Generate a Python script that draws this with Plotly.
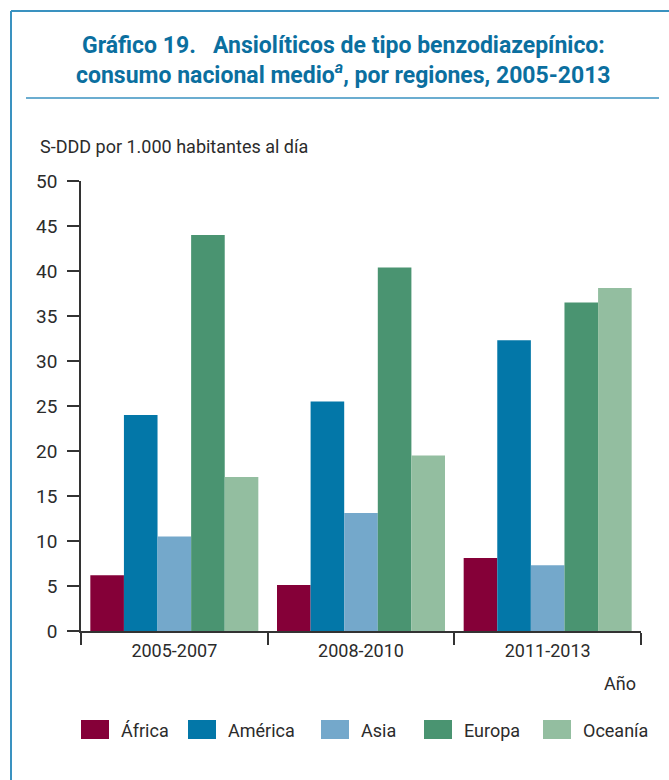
import plotly.graph_objects as go

periods = ["2005-2007", "2008-2010", "2011-2013"]
regions = ["África", "América", "Asia", "Europa", "Oceanía"]
africa = [6.2, 5.1, 8.1]
america = [24.0, 25.5, 32.3]
asia = [10.5, 13.1, 7.3]
europa = [44.0, 40.4, 36.5]
oceania = [17.1, 19.5, 38.1]
y_ticks = [0, 5, 10, 15, 20, 25, 30, 35, 40, 45, 50]

series = [africa, america, asia, europa, oceania]
colors = ["#850038", "#0377a8", "#74a8cb", "#4a9471", "#93bea0"]

FONT = "Roboto, Liberation Sans, sans-serif"
TXT = "#2b2b2b"
FRAME = "#3a92c0"
W, H = 669, 780
L, R, T, B = 81, 28, 181, 149
PW, PH = W - L - R, H - T - B

fig = go.Figure()
for name, vals, col in zip(regions, series, colors):
    fig.add_trace(go.Bar(x=periods, y=vals, name=name, marker_color=col,
                         marker_line_width=0, showlegend=False))

fig.update_layout(
    width=W, height=H,
    margin=dict(l=L, r=R, t=T, b=B),
    paper_bgcolor="white", plot_bgcolor="white",
    barmode="group", bargap=0.1, bargroupgap=0,
    font=dict(family=FONT, color=TXT, size=18),
)
fig.update_yaxes(range=[0, 50], tickvals=y_ticks, showgrid=False, zeroline=False,
                 showline=True, linecolor="#333", linewidth=1.5,
                 ticks="outside", ticklen=12, tickcolor="#333", tickwidth=1.5,
                 ticklabelstandoff=6,
                 tickfont=dict(size=19, color=TXT, family=FONT))
fig.update_xaxes(showgrid=False, showline=True, linecolor="#333", linewidth=2,
                 ticks="outside", tickson="boundaries", ticklen=12, tickcolor="#333",
                 tickwidth=1.5, ticklabelstandoff=2,
                 tickfont=dict(size=18, color=TXT, family=FONT))


def px_x(px):
    return (px - L) / PW


def px_y(py):
    return (H - B - py) / PH


def hline(x0, x1, y, col, w):
    return dict(type="line", xref="paper", yref="paper",
                x0=px_x(x0), x1=px_x(x1), y0=px_y(y), y1=px_y(y),
                line=dict(color=col, width=w))


def vline(x, y0, y1, col, w):
    return dict(type="line", xref="paper", yref="paper",
                x0=px_x(x), x1=px_x(x), y0=px_y(y0), y1=px_y(y1),
                line=dict(color=col, width=w))


shapes = [
    hline(11, 669, 11, FRAME, 2),
    vline(11, 11, 780, FRAME, 2),
    hline(26, 659, 98, FRAME, 1.5),
]
annotations = []

TITLE_COL = "#0b6f9f"
annotations.append(dict(xref="paper", yref="paper", x=px_x(343), y=px_y(45),
                        text="<b>Gráfico 19.   Ansiolíticos de tipo benzodiazepínico:</b>",
                        showarrow=False, xanchor="center", yanchor="middle",
                        font=dict(size=23, color=TITLE_COL, family=FONT)))
annotations.append(dict(xref="paper", yref="paper", x=px_x(343), y=px_y(73),
                        text="<b>consumo nacional medio<sup><i>a</i></sup>, por regiones, 2005-2013</b>",
                        showarrow=False, xanchor="center", yanchor="middle",
                        font=dict(size=23, color=TITLE_COL, family=FONT)))
annotations.append(dict(xref="paper", yref="paper", x=px_x(38), y=px_y(146),
                        text="S-DDD por 1.000 habitantes al día", showarrow=False,
                        xanchor="left", yanchor="middle",
                        font=dict(size=18, color=TXT, family=FONT)))
annotations.append(dict(xref="paper", yref="paper", x=px_x(638), y=px_y(683),
                        text="Año", showarrow=False,
                        xanchor="right", yanchor="middle",
                        font=dict(size=18, color=TXT, family=FONT)))

leg_x = [81, 188, 321, 424, 543]
for name, col, lx in zip(regions, colors, leg_x):
    shapes.append(dict(type="rect", xref="paper", yref="paper",
                       x0=px_x(lx), x1=px_x(lx + 28),
                       y0=px_y(739), y1=px_y(720),
                       fillcolor=col, line=dict(width=0)))
    annotations.append(dict(xref="paper", yref="paper", x=px_x(lx + 38),
                            y=px_y(730), text=name, showarrow=False,
                            xanchor="left", yanchor="middle",
                            font=dict(size=18, color=TXT, family=FONT)))

fig.update_layout(shapes=shapes, annotations=annotations)
fig.write_html("out.html", config={"displayModeBar": False},
               post_script="document.body.style.margin='0';")
